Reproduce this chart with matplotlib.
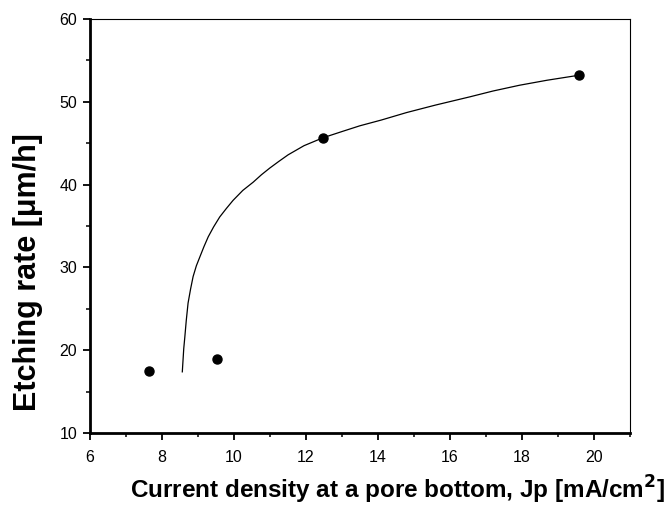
import numpy as np
import matplotlib.pyplot as plt
from matplotlib import font_manager
from matplotlib.ticker import MultipleLocator

plt.rcParams['font.family'] = ['Liberation Sans', 'DejaVu Sans']

# measured points
jp = [7.65, 9.52, 12.48, 19.58]
rate = [17.5, 18.9, 45.66, 53.2]

# fitted curve
fit_x = [8.57, 8.59, 8.61, 8.64, 8.68, 8.73, 8.80, 8.87, 8.96, 9.06, 9.17, 9.29,
         9.44, 9.61, 9.79, 9.98, 10.25, 10.54, 10.77, 11.0, 11.25, 11.51, 11.95,
         12.48, 13.0, 13.5, 14.1, 14.8, 15.6, 16.56, 17.2, 17.94, 18.7, 19.58]
fit_y = [17.4, 18.8, 20.2, 21.6, 23.6, 25.7, 27.4, 28.9, 30.2, 31.3, 32.5, 33.7,
         34.9, 36.1, 37.1, 38.1, 39.3, 40.3, 41.2, 42.0, 42.8, 43.6, 44.7,
         45.66, 46.4, 47.1, 47.8, 48.7, 49.6, 50.6, 51.3, 52.0, 52.6, 53.2]

# narrow font for the tick numbers if it is there
names = {f.name for f in font_manager.fontManager.ttflist}
if 'Liberation Sans Narrow' in names:
    tick_font, tick_size = 'Liberation Sans Narrow', 13
else:
    tick_font, tick_size = 'Liberation Sans', 11.5

fig = plt.figure(figsize=(6.7, 5.12), dpi=100)
ax = fig.add_axes([0.134, 0.154, 0.806, 0.809])

ax.plot(fit_x, fit_y, color='black', lw=0.9)
ax.plot(jp, rate, 'o', color='black', ms=6.5)

ax.set_xlim(6, 21)
ax.set_ylim(10, 60)
ax.xaxis.set_major_locator(MultipleLocator(2))
ax.xaxis.set_minor_locator(MultipleLocator(1))
ax.yaxis.set_major_locator(MultipleLocator(10))
ax.yaxis.set_minor_locator(MultipleLocator(5))

ax.tick_params(which='both', direction='out', top=False, right=False,
               labelsize=tick_size, labelfontfamily=tick_font)
ax.tick_params(axis='x', which='major', pad=7)
ax.tick_params(axis='y', which='major', pad=4)
ax.tick_params(which='major', length=5, width=1.3)
ax.tick_params(which='minor', length=3, width=1.1)

ax.spines['left'].set_linewidth(2)
ax.spines['bottom'].set_linewidth(2)
ax.spines['top'].set_linewidth(0.8)
ax.spines['right'].set_linewidth(0.8)

ax.set_xlabel('Current density at a pore bottom, Jp [mA/cm$^\\mathbf{2}$]',
              fontsize=17.5, fontweight='bold')
ax.xaxis.set_label_coords(0.57, -0.097)
ax.set_ylabel('Etching rate [\u03bcm/h]', fontsize=22, fontweight='bold')
ax.yaxis.set_label_coords(-0.086, 0.39)

fig.savefig('out.png', dpi=100)
